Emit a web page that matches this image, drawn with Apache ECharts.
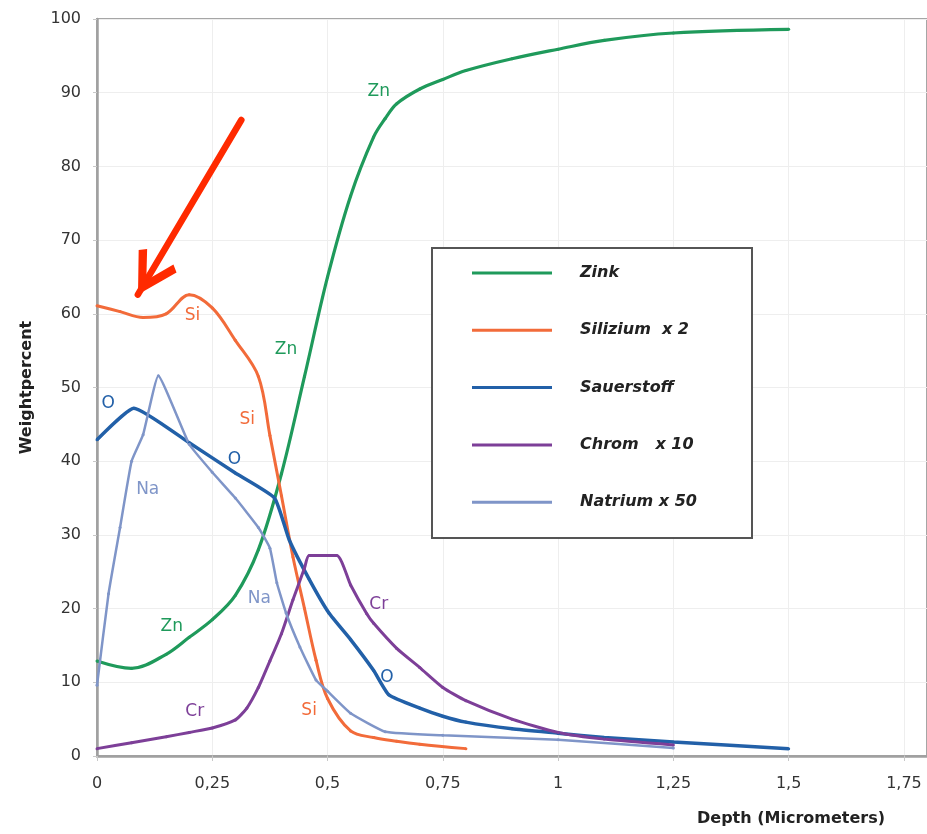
<!DOCTYPE html>
<html><head><meta charset="utf-8">
<script src="https://cdn.jsdelivr.net/npm/echarts@6/dist/echarts.min.js"></script>
<style>html,body{margin:0;padding:0;background:#fff}#c{width:927px;height:834px}</style>
</head><body><div id="c"></div>
<script>
// ---- data ----
const xTickLabels = ['0','0,25','0,5','0,75','1','1,25','1,5','1,75'];
const seriesNames = ['Zink','Silizium  x 2','Sauerstoff','Chrom   x 10','Natrium x 50'];

const znX = [0, 0.075, 0.15, 0.2, 0.25, 0.3, 0.35, 0.4, 0.45, 0.5, 0.55, 0.6, 0.625, 0.65, 0.7, 0.75, 0.8, 0.9, 1.0, 1.1, 1.25, 1.5];
const znY = [12.9, 11.9, 13.8, 16.1, 18.5, 21.8, 28, 38.3, 51.5, 65, 76, 84, 86.5, 88.5, 90.5, 91.8, 93, 94.6, 95.9, 97.1, 98.1, 98.6];

const siX = [0, 0.05, 0.1, 0.15, 0.2, 0.25, 0.3, 0.35, 0.375, 0.4, 0.425, 0.45, 0.475, 0.5, 0.55, 0.6, 0.65, 0.7, 0.8];
const siY = [61.1, 60.3, 59.5, 60.0, 62.6, 60.8, 56.4, 51.5, 43.5, 35.3, 27, 20, 13, 7.8, 3.4, 2.5, 2.0, 1.6, 1.0];

const oX = [0, 0.08, 0.2, 0.3, 0.385, 0.417, 0.46, 0.503, 0.55, 0.6, 0.633, 0.7, 0.75, 0.8, 0.9, 1.0, 1.1, 1.25, 1.5];
const oY = [42.9, 47.2, 42.5, 38.4, 35.0, 29.3, 24.0, 19.4, 15.8, 11.6, 8.3, 6.5, 5.4, 4.6, 3.7, 3.1, 2.5, 1.9, 1.0];

const crX = [0, 0.075, 0.15, 0.2, 0.25, 0.3, 0.325, 0.35, 0.375, 0.4, 0.425, 0.45, 0.46, 0.52, 0.55, 0.585, 0.6, 0.65, 0.7, 0.75, 0.8, 0.9, 1.0, 1.1, 1.25];
const crY = [1.0, 1.8, 2.6, 3.2, 3.8, 4.9, 6.5, 9.3, 12.9, 16.6, 21.2, 25.5, 27.2, 27.2, 23.2, 19.3, 18.0, 14.6, 12, 9.3, 7.5, 5.0, 3.2, 2.3, 1.5];

const naX = [0, 0.025, 0.05, 0.075, 0.1, 0.133, 0.2, 0.25, 0.3, 0.35, 0.375, 0.39, 0.41, 0.44, 0.475, 0.5, 0.55, 0.625, 0.75, 1.0, 1.25];
const naY = [9.6, 22, 31, 40, 43.6, 51.6, 42.3, 38.5, 35, 31, 28.2, 23.5, 19.4, 14.8, 10.3, 8.8, 5.8, 3.3, 2.8, 2.2, 1.1];

// in-plot element tags: x, y (data coords), text, series index
const annoX = [0.611, 0.207, 0.41, 0.326, 0.024, 0.298, 0.11, 0.352, 0.162, 0.212, 0.46, 0.611, 0.629];
const annoY = [90.1, 59.8, 55.1, 45.6, 47.8, 40.2, 36.1, 21.4, 17.5, 6.0, 6.1, 20.5, 10.6];
const annoText = ['Zn', 'Si', 'Zn', 'Si', 'O', 'O', 'Na', 'Na', 'Zn', 'Cr', 'Si', 'Cr', 'O'];
const annoSeries = [0, 1, 0, 1, 2, 2, 4, 4, 0, 3, 1, 3, 2];

// red pointer arrow (data coords)
const arrowFrom = [0.313, 86.3];
const arrowTo = [0.0886, 62.6];

// ---- chart ----
const colors = ['#1f9a5b', '#f26b3a', '#2260a8', '#7d3f98', '#7f95c8'];
const widths = [3.2, 3, 3.5, 3, 2.5];
const smooths = [0.35, 0.35, 0.15, 0.2, 0.12];
const xs = [znX, siX, oX, crX, naX];
const ys = [znY, siY, oY, crY, naY];
const FONT = 'DejaVu Sans';

const chevron = 'path://M18,-38L18.02,-38L18,-37.98Z M18,0 L36,33 L30.5,37.5 L18,14 L5.5,37.5 L0,33 Z';

const series = seriesNames.map((name, i) => {
  const s = {
    name, type: 'line',
    data: xs[i].map((x, j) => [x, ys[i][j]]),
    smooth: smooths[i],
    symbol: 'circle', symbolSize: 3, showSymbol: true,
    itemStyle: { color: colors[i] },
    lineStyle: { color: colors[i], width: widths[i] },
    z: 2
  };
  if (i === 1) {
    s.markLine = {
      silent: true,
      symbol: ['none', chevron],
      symbolSize: [44, 88],
      lineStyle: { color: '#ff2a00', width: 6.5, type: 'solid', cap: 'round' },
      itemStyle: { color: '#ff2a00' },
      label: { show: false },
      emphasis: { disabled: true },
      data: [[{ coord: arrowFrom }, { coord: arrowTo }]],
      z: 6
    };
  }
  return s;
});

series.push({
  type: 'scatter',
  silent: true,
  symbolSize: 1,
  itemStyle: { color: 'rgba(0,0,0,0)' },
  data: annoX.map((x, i) => ({
    value: [x, annoY[i]], name: annoText[i],
    label: { color: colors[annoSeries[i]] }
  })),
  label: {
    show: true, position: 'inside', formatter: p => p.name,
    fontFamily: FONT, fontSize: 17, opacity: 1
  },
  z: 5
});

const chart = echarts.init(document.getElementById('c'));
chart.setOption({
  animation: false,
  backgroundColor: '#fff',
  grid: { left: 97, top: 19, width: 833, height: 737, show: true, borderColor: '#a6a6a6', borderWidth: 2, backgroundColor: 'transparent' },
  xAxis: {
    type: 'value', min: 0, max: 1.8, interval: 0.25,
    axisLine: { show: true, lineStyle: { color: '#a0a0a0', width: 2.5 } },
    axisTick: { show: true, length: 5, lineStyle: { color: '#c8c8c8' } },
    splitLine: { show: true, lineStyle: { color: '#eeeeee', width: 1 } },
    axisLabel: {
      margin: 20, fontFamily: FONT, fontSize: 16, color: '#333', showMaxLabel: false,
      formatter: v => { const k = Math.round(v / 0.25); return xTickLabels[k] !== undefined ? xTickLabels[k] : ''; }
    }
  },
  yAxis: {
    type: 'value', min: 0, max: 100, interval: 10,
    name: 'Weightpercent', nameLocation: 'middle', nameGap: 62, nameRotate: 90,
    nameTextStyle: { fontFamily: FONT, fontSize: 16, fontWeight: 'bold', color: '#222' },
    axisLine: { show: true, lineStyle: { color: '#a0a0a0', width: 2.5 } },
    axisTick: { show: true, length: 4, lineStyle: { color: '#c8c8c8' } },
    splitLine: { show: true, lineStyle: { color: '#eeeeee', width: 1 } },
    axisLabel: { margin: 16, fontFamily: FONT, fontSize: 16, color: '#333' }
  },
  legend: {
    data: seriesNames,
    orient: 'vertical', left: 472, top: 263, padding: 0,
    icon: 'rect', itemWidth: 80, itemHeight: 3, itemGap: 37.3,
    selectedMode: false,
    textStyle: { fontFamily: FONT, fontSize: 16, fontWeight: 'bold', fontStyle: 'italic', color: '#222', lineHeight: 20, padding: [0, 0, 0, 23] }
  },
  graphic: [
    { type: 'rect', z: 1, shape: { x: 432, y: 248, width: 320, height: 290 }, style: { fill: '#fff', stroke: '#555', lineWidth: 2 } },
    { type: 'text', left: 697, top: 811, style: { text: 'Depth (Micrometers)', font: 'bold 16px "DejaVu Sans"', fill: '#222' } }
  ],
  series
});
</script></body></html>
